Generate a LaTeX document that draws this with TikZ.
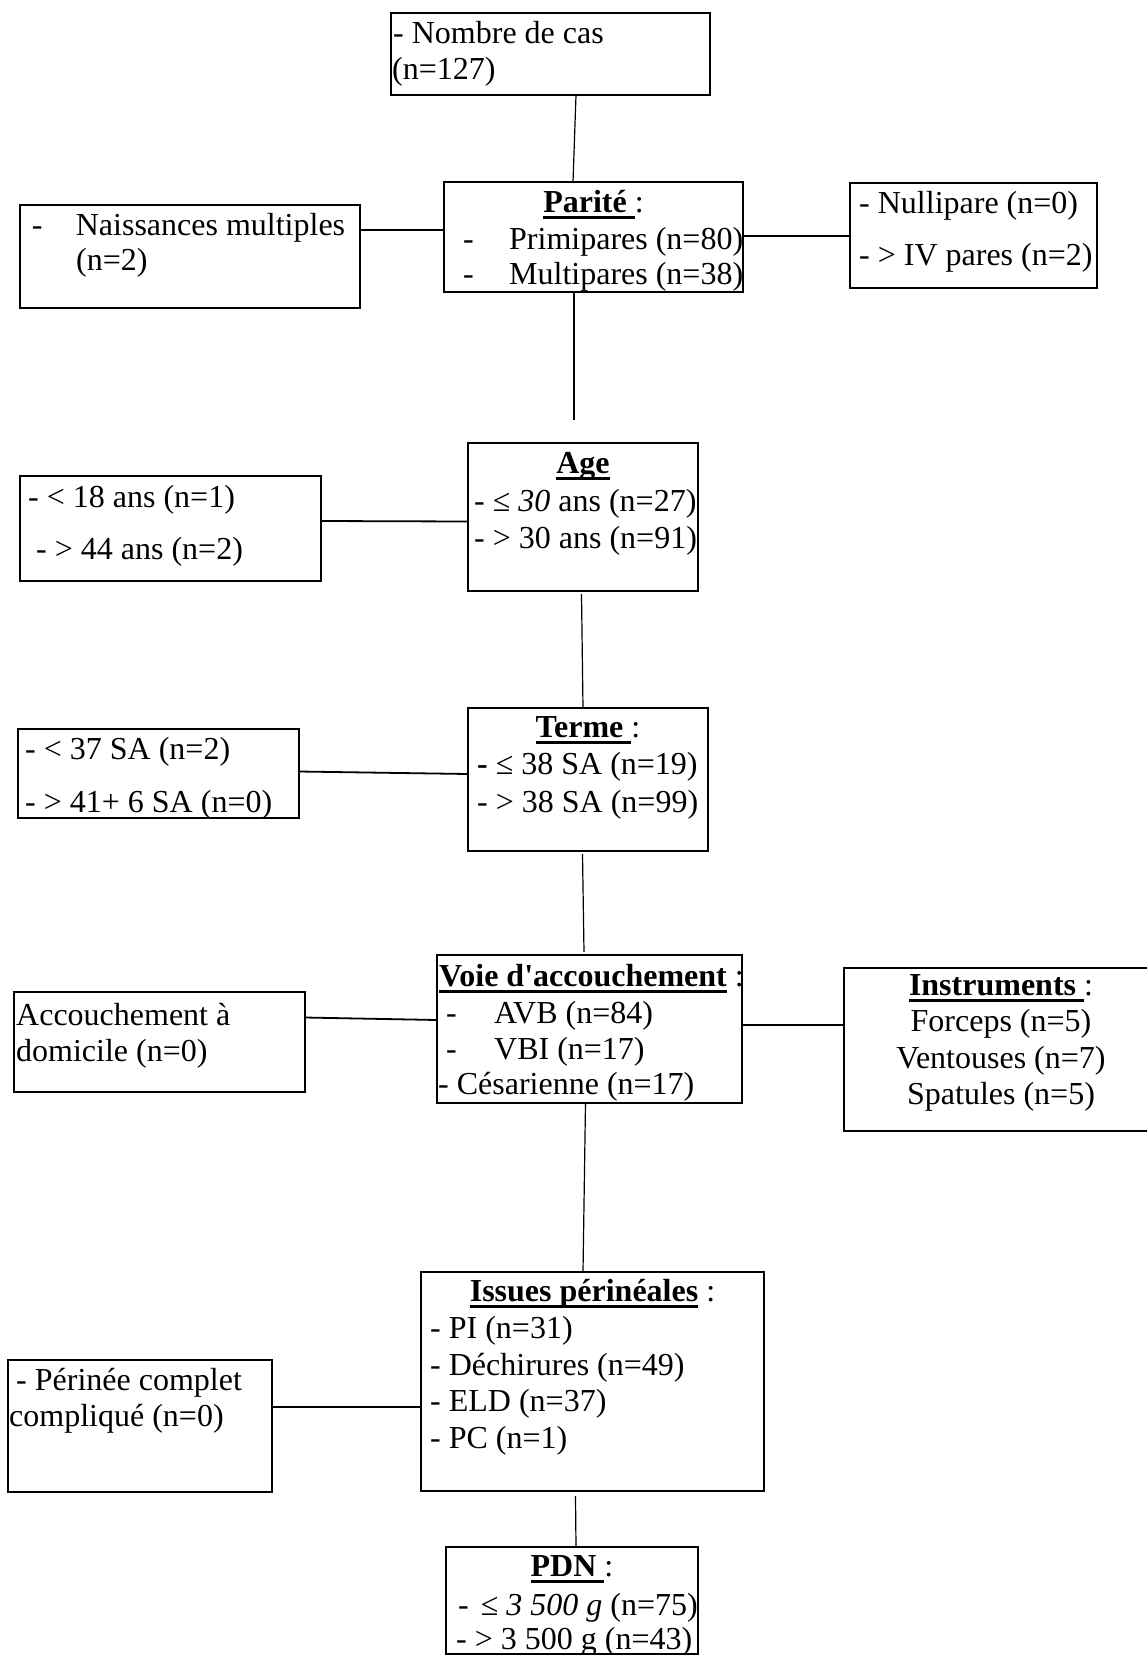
\documentclass[tikz,border=0pt]{standalone}
\usepackage{fontspec}
\setmainfont{Liberation Serif}
\newcommand\fsz{\fontsize{32}{37}\selectfont}
\newcommand\myul[1]{\setbox0=\hbox{#1}\rlap{\rule[-7pt]{\wd0}{3pt}}\box0\relax}
\newcommand\mkbox[5]{\node[box,minimum width={#4pt-#2pt},minimum height={#5pt-#3pt}] (#1) at (#2,#3) {};}
\begin{document}
\begin{tikzpicture}[x=1pt,y=-1pt,
 box/.style={draw,line width=1.2pt,inner sep=0pt,outer sep=0pt,anchor=north west},
 txt/.style={inner sep=0pt,anchor=base west,font=\fsz},
 ctr/.style={inner sep=0pt,anchor=base,font=\fsz},
 vline/.style={line width=1.2pt},
 hline/.style={line width=1.8pt}]
\useasboundingbox (0,0) rectangle (1147,1655);

% boxes
\mkbox{nb}{391}{13}{710}{95}
\mkbox{par}{444}{182}{743}{292}
\mkbox{nai}{20}{205}{360}{308}
\mkbox{nul}{850}{183}{1097}{288}
\mkbox{age}{468}{443}{698}{591}
\mkbox{ya}{20}{476}{321}{581}
\mkbox{ter}{468}{708}{708}{851}
\mkbox{sa}{18}{729}{299}{818}
\mkbox{voie}{437}{955}{742}{1103}
\mkbox{dom}{14}{992}{305}{1092}
\mkbox{ins}{844}{968}{1156}{1131}
\mkbox{iss}{421}{1272}{764}{1491}
\mkbox{per}{8}{1360}{272}{1492}
\mkbox{pdn}{446}{1547}{698}{1654}

% texts
\node[txt] (n1a) at (393,43) {- Nombre de cas};
\node[txt] (n1b) at (392,79) {(n=127)};

\node[ctr] (p0) at (593.5,212) {\myul{\textbf{Parité}\ }:};
\node[txt] (p1) at (463,249) {\makebox[46pt][l]{-}Primipares (n=80)};
\node[txt] (p2) at (463,284) {\makebox[46pt][l]{-}Multipares (n=38)};

\node[txt] (m1) at (31.7,235) {\makebox[44pt][l]{-}Naissances multiples};
\node[txt] (m2) at (76,270) {(n=2)};

\node[txt] (u1) at (859,213) {- Nullipare (n=0)};
\node[txt] (u2) at (859,265) {- > IV pares (n=2)};

\node[ctr] (a0) at (583,473) {\myul{\textbf{Age}}};
\node[txt] (a1) at (474,511) {- ≤ \textit{30} ans (n=27)};
\node[txt] (a2) at (474,548) {- > 30 ans (n=91)};

\node[txt] (y1) at (28,507) {- < 18 ans (n=1)};
\node[txt] (y2) at (36,559) {- > 44 ans (n=2)};

\node[ctr] (t0) at (588,737) {\myul{\textbf{Terme}\ }:};
\node[txt] (t1) at (477,774) {\textbf{-} ≤ 38 SA (n=19)};
\node[txt] (t2) at (477,812) {- > 38 SA (n=99)};

\node[txt] (s1) at (25,759) {- < 37 SA (n=2)};
\node[txt] (s2) at (25,812) {- > 41+ 6 SA (n=0)};

\node[txt] (v0) at (439,986) {\myul{\textbf{Voie d\textquotesingle accouchement}}\ :};
\node[txt] (v1) at (446,1023) {\makebox[48pt][l]{-}AVB (n=84)};
\node[txt] (v2) at (446,1059) {\makebox[48pt][l]{-}VBI (n=17)};
\node[txt] (v3) at (438,1094) {- Césarienne (n=17)};

\node[txt] (c1) at (16,1025) {Accouchement à};
\node[txt] (c2) at (16,1061) {domicile (n=0)};

\node[ctr] (i0) at (1001,995) {\myul{\textbf{Instruments}\ }:};
\node[ctr] (i1) at (1001,1031) {Forceps (n=5)};
\node[ctr] (i2) at (1001,1068) {Ventouses (n=7)};
\node[ctr] (i3) at (1001,1104) {Spatules (n=5)};

\node[ctr] (e0) at (592.5,1301) {\myul{\textbf{Issues périnéales}}\ :};
\node[txt] (e1) at (430,1338) {- PI (n=31)};
\node[txt] (e2) at (430,1375) {- Déchirures (n=49)};
\node[txt] (e3) at (430,1411) {- ELD (n=37)};
\node[txt] (e4) at (430,1448) {- PC (n=1)};

\node[txt] (r1) at (16,1390) {- Périnée complet};
\node[txt] (r2) at (9,1426) {compliqué (n=0)};

\node[ctr] (d0) at (572,1576) {\myul{\textbf{PDN}\ }:};
\node[txt] (d1) at (458,1615) {-\hspace{12pt}≤ \textit{3 500 g} (n=75)};
\node[txt] (d2) at (456,1649) {- > 3 500 g (n=43)};

% vertical connectors
\coordinate (pend) at (574,420);
\draw[vline] ([xshift=25.5pt]nb.south) -- ([xshift=-20.5pt]par.north);
\draw[vline] ([xshift=-19.5pt]par.south) -- (pend);
\draw[vline] ([xshift=-1.5pt,yshift=-3pt]age.south) -- ([xshift=-5pt]ter.north);
\draw[vline] ([xshift=-5.5pt,yshift=-3pt]ter.south) -- ([xshift=-5.5pt,yshift=3pt]voie.north);
\draw[vline] ([xshift=-4pt]voie.south) -- ([xshift=-9.5pt]iss.north);
\draw[vline] ([xshift=-17pt,yshift=-5pt]iss.south) -- ([xshift=4pt]pdn.north);

% side connectors
\draw[hline] ([yshift=26.5pt]nai.east) -- ([yshift=7pt]par.west);
\draw[hline] ([yshift=1pt]par.east) -- ([yshift=-0.5pt]nul.west);
\draw[hline] ([yshift=7.5pt]ya.east) -- ([yshift=-4.5pt]age.west);
\draw[hline] ([yshift=2pt]sa.east) -- ([yshift=5.5pt]ter.west);
\draw[hline] ([yshift=24.5pt]dom.east) -- ([yshift=9pt]voie.west);
\draw[hline] ([yshift=4pt]voie.east) -- ([yshift=24.5pt]ins.west);
\draw[hline] ([yshift=19pt]per.east) -- ([yshift=-25.5pt]iss.west);
\end{tikzpicture}
\end{document}
